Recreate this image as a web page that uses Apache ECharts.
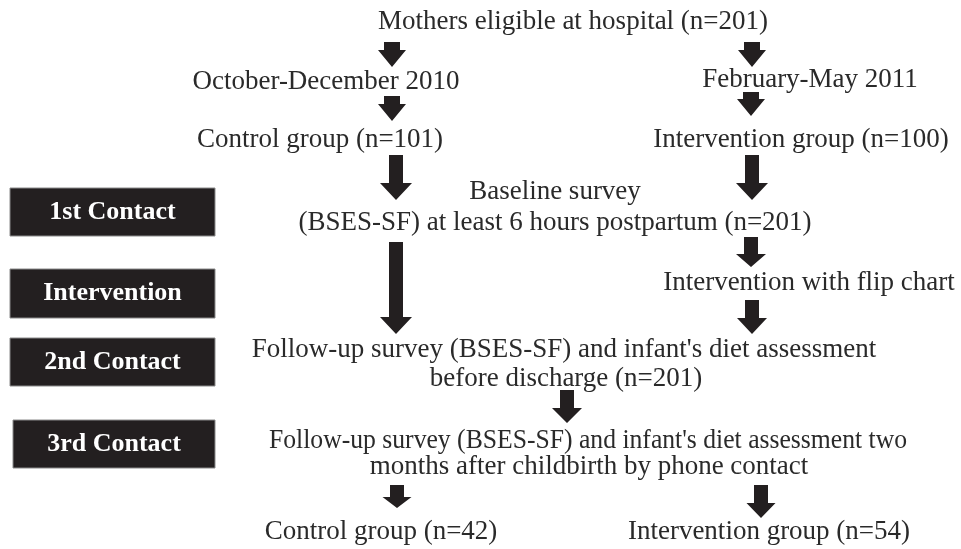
<!DOCTYPE html>
<html>
<head>
<meta charset="utf-8">
<script src="https://cdn.jsdelivr.net/npm/echarts@6/dist/echarts.min.js"></script>
<style>
html,body{margin:0;padding:0;background:#fff;}
#chart{width:961px;height:549px;}
</style>
</head>
<body>
<div id="chart"></div>
<script>
// ---- content ----
var stepTexts = [
  'Mothers eligible at hospital (n=201)',
  'October-December 2010',
  'February-May 2011',
  'Control group (n=101)',
  'Intervention group (n=100)',
  'Baseline survey',
  '(BSES-SF) at least 6 hours postpartum (n=201)',
  'Intervention with flip chart',
  'Follow-up survey (BSES-SF) and infant\'s diet assessment',
  'before discharge (n=201)',
  'Follow-up survey (BSES-SF) and infant\'s diet assessment two',
  'months after childbirth by phone contact',
  'Control group (n=42)',
  'Intervention group (n=54)'
];
var contactLabels = ['1st Contact', 'Intervention', '2nd Contact', '3rd Contact'];

// ---- layout (diagram coordinates, in the hidden value axes' units) ----
var stepPos = [
  [573, 22], [326, 82], [810, 80], [320, 140], [801, 140],
  [555, 192], [555, 223], [809, 283], [564, 350], [566, 379],
  [588, 441], [589, 467], [381, 532], [769, 532]
];
var stepScaleX = [1,1,1,1,1,1,1,1,1,1,0.95,1,1,1];
var contactBoxes = [
  [10, 188, 215, 236], [10, 269, 215, 318], [10, 338, 215, 386], [13, 420, 215, 468]
];
// arrows: [centerX, yTop, yTip, shaftWidth, headWidth, headHeight]
var arrows = [
  [392, 42, 67, 16, 28, 17],
  [752, 42, 67, 16, 28, 17],
  [392, 96, 121, 16, 28, 17],
  [751, 92, 116, 16, 28, 17],
  [396, 155, 200, 14, 32, 17],
  [752, 155, 200, 14, 32, 17],
  [751, 237, 267, 14, 30, 13],
  [396, 242, 334, 14, 32, 17],
  [752, 300, 334, 14, 30, 16],
  [567, 390, 423, 14, 30, 15],
  [397, 485, 508, 14, 29, 11],
  [761, 485, 518, 14, 29, 15]
];

var ink = '#231f20';
var textColor = '#2a2a2a';
var serif = '"Liberation Serif", "Times New Roman", "DejaVu Serif", serif';

var chart = echarts.init(document.getElementById('chart'), null, {renderer: 'canvas'});

var option = {
  animation: false,
  backgroundColor: '#ffffff',
  grid: {left: 0, right: 0, top: 0, bottom: 0},
  xAxis: {type: 'value', min: 0, max: 961, show: false},
  yAxis: {type: 'value', min: 0, max: 549, inverse: true, show: false},
  series: [
    {
      type: 'custom',
      name: 'arrows',
      silent: true,
      data: arrows,
      renderItem: function (params, api) {
        var cx = api.value(0), y0 = api.value(1), y1 = api.value(2);
        var sw = api.value(3), hw = api.value(4), hh = api.value(5);
        var pTop = api.coord([cx, y0]);
        var pTip = api.coord([cx, y1]);
        var pHead = api.coord([cx, y1 - hh]);
        var x = pTop[0];
        var pts = [
          [x - sw / 2, pTop[1]], [x + sw / 2, pTop[1]],
          [x + sw / 2, pHead[1]], [x + hw / 2, pHead[1]],
          [x, pTip[1]],
          [x - hw / 2, pHead[1]], [x - sw / 2, pHead[1]]
        ];
        return {type: 'polygon', shape: {points: pts}, style: {fill: ink}};
      }
    },
    {
      type: 'custom',
      name: 'contacts',
      silent: true,
      data: contactBoxes.map(function (b, i) { return b.concat([i]); }),
      renderItem: function (params, api) {
        var a = api.coord([api.value(0), api.value(1)]);
        var b = api.coord([api.value(2), api.value(3)]);
        var label = contactLabels[api.value(4)];
        return {
          type: 'group',
          children: [
            {type: 'rect', shape: {x: a[0], y: a[1], width: b[0] - a[0], height: b[1] - a[1]},
             style: {fill: ink, stroke: '#8a8a8a', lineWidth: 1}},
            {type: 'text', x: (a[0] + b[0]) / 2, y: (a[1] + b[1]) / 2,
             style: {text: label, fill: '#ffffff', font: 'bold 26px ' + serif,
                     align: 'center', verticalAlign: 'middle'}}
          ]
        };
      }
    },
    {
      type: 'custom',
      name: 'steps',
      silent: true,
      data: stepPos.map(function (p, i) { return p.concat([i]); }),
      renderItem: function (params, api) {
        var p = api.coord([api.value(0), api.value(1)]);
        var i = api.value(2);
        return {
          type: 'text', x: p[0], y: p[1], scaleX: stepScaleX[i],
          style: {text: stepTexts[i], fill: textColor, font: '27px ' + serif,
                  align: 'center', verticalAlign: 'middle'}
        };
      }
    }
  ]
};
chart.setOption(option);
</script>
</body>
</html>
